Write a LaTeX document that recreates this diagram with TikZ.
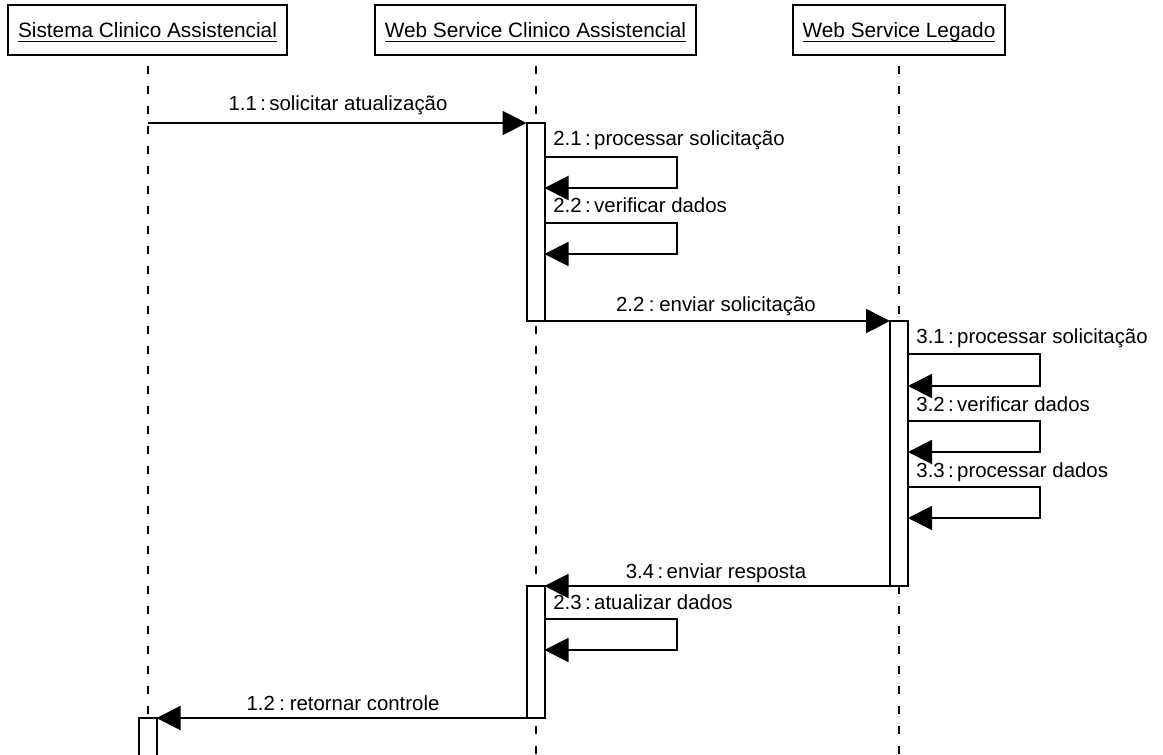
\documentclass[tikz,border=0pt]{standalone}
\usepackage{fontspec}
\setmainfont{Liberation Sans}
\usetikzlibrary{arrows.meta}
% underlined participant name, rule placed a little below the baseline
\newcommand{\lifelabel}[1]{\setbox0\hbox{#1}\rlap{\rule[-2.6pt]{\wd0}{0.5pt}}\box0}
% separators between message number and message name
\newcommand{\sepn}{\hspace{1.7pt}:\hspace{1.7pt}}
\newcommand{\sepw}{\hspace{2.2pt}:\hspace{2.4pt}}

\begin{document}
\begin{tikzpicture}[x=0.5pt,y=-0.5pt,
  txt/.style={font=\fontsize{10.2}{12}\selectfont},
  lbl/.style={txt, inner sep=0pt},
  lifebox/.style={font=\fontsize{10.4}{12}\selectfont, draw, line width=1pt,
    inner xsep=5pt, inner ysep=9pt, text height=7pt, text depth=0pt, anchor=base},
  lifeline/.style={line width=1pt, dash pattern=on 4pt off 6pt, dash phase=5pt},
  act/.style={draw, fill=white, line width=1pt, minimum width=9pt,
    inner sep=0pt, outer sep=0pt},
  msg/.style={line width=1pt, -{Triangle[length=12pt,width=12pt]}},
]
\useasboundingbox (0,0) rectangle (1163,755);
\clip (0,0) rectangle (1163,755);

% participants
\node[lifebox] (b1) at (147.5,37) {\lifelabel{Sistema Clinico Assistencial}};
\node[lifebox] (b2) at (535.5,37) {\lifelabel{Web Service Clinico Assistencial}};
\node[lifebox] (b3) at (899,37)   {\lifelabel{Web Service Legado}};

% lifelines
\draw[lifeline] (b1.south) -- (b1.south |- 0,770);
\draw[lifeline] (b2.south) -- (b2.south |- 0,770);
\draw[lifeline] (b3.south) -- (b3.south |- 0,770);

% activation bars
\node[act, minimum height=99pt]    (a2a) at (535.5,222)   {};
\node[act, minimum height=132.5pt] (a3)  at (899,453.5)   {};
\node[act, minimum height=66pt]    (a2b) at (535.5,652)   {};
\node[act, minimum height=28.5pt]  (a1)  at (147.5,746.5) {};

% 1.1
\draw[msg] (b1.south |- a2a.north west) -- (a2a.north west);
\node[lbl, anchor=base] (t11) at (338,110) {1.1\sepn solicitar atualização};

% 2.1
\draw[msg] (a2a.east |- 0,157) -| (677,188) -- (a2a.east |- 0,188);
\node[lbl, anchor=base west] (t21) at (553,145) {2.1\sepn processar solicitação};

% 2.2 verificar
\draw[msg] (a2a.east |- 0,223) -| (677,254) -- (a2a.east |- 0,254);
\node[lbl, anchor=base west] (t22) at (553,212) {2.2\sepn verificar dados};

% 2.2 enviar
\draw[msg] (a2a.south east) -- (a3.north west);
\node[lbl, anchor=base] (t22e) at (716,311) {2.2\sepw enviar solicitação};

% 3.1
\draw[msg] (a3.east |- 0,354) -| (1040,386) -- (a3.east |- 0,386);
\node[lbl, anchor=base west] (t31) at (916,343) {3.1\sepn processar solicitação};

% 3.2
\draw[msg] (a3.east |- 0,421) -| (1040,452) -- (a3.east |- 0,452);
\node[lbl, anchor=base west] (t32) at (916,411) {3.2\sepn verificar dados};

% 3.3
\draw[msg] (a3.east |- 0,487) -| (1040,518) -- (a3.east |- 0,518);
\node[lbl, anchor=base west] (t33) at (916,477) {3.3\sepn processar dados};

% 3.4
\draw[msg] (a3.south west) -- (a2b.north east);
\node[lbl, anchor=base] (t34) at (716,578) {3.4\sepn enviar resposta};

% 2.3
\draw[msg] (a2b.east |- 0,619) -| (677,650) -- (a2b.east |- 0,650);
\node[lbl, anchor=base west] (t23) at (553,609) {2.3\sepn atualizar dados};

% 1.2
\draw[msg] (a2b.south west) -- (a1.north east);
\node[lbl, anchor=base] (t12) at (343,710) {1.2\sepw retornar controle};
\end{tikzpicture}
\end{document}
